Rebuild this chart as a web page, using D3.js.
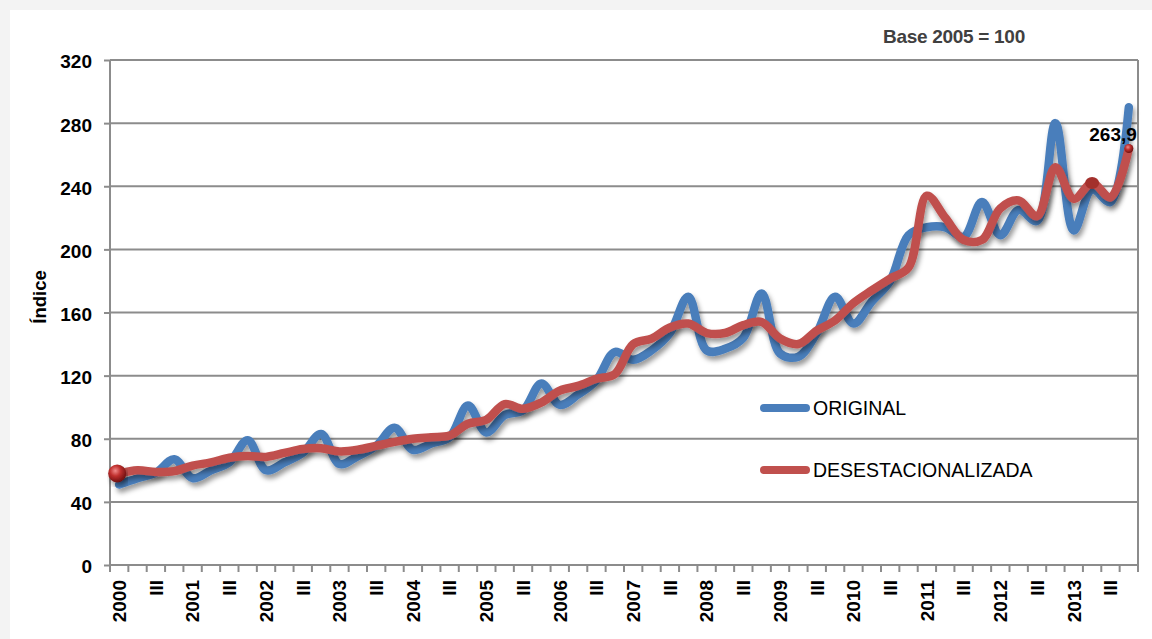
<!DOCTYPE html>
<html>
<head>
<meta charset="utf-8">
<script src="https://cdn.jsdelivr.net/npm/d3@7"></script>
<style>
  body { margin: 0; background: #f3f3f3; }
  text { font-family: "Liberation Sans", Arial, sans-serif; }
</style>
</head>
<body>
<script>
// quarters 2000-I .. 2013-IV
var years = [2000, 2001, 2002, 2003, 2004, 2005, 2006, 2007, 2008, 2009, 2010, 2011, 2012, 2013];
var quarterNames = ['I', 'II', 'III', 'IV'];

var original = [
    51, 55, 58.5, 67,
    55, 60, 65, 79,
    60, 65, 71, 83,
    64, 69, 75.5, 87,
    73, 77, 81, 101,
    84, 95, 98, 115,
    101.5, 108, 117, 135,
    130, 136, 147, 170,
    136, 137, 144, 172,
    134, 132, 147, 170,
    153, 167, 180, 209,
    214, 214, 208, 230,
    209, 225, 218, 280,
    212, 238, 230, 290
];

var desestacionalizada = [
    58, 60, 59, 59.5,
    63, 65, 68, 69,
    68.5, 71, 73.5, 74,
    72, 73, 75.5, 78,
    80, 81, 82, 89.5,
    92, 102, 99, 103,
    110.5, 113.5, 118, 121,
    140, 143.5, 150.5, 153,
    147, 147, 152, 154,
    143.5, 140, 148.5, 155,
    166, 174, 181.5, 188.5,
    234, 220, 206, 206,
    226, 231, 221, 252,
    232, 242, 233, 263.9
];

var yTicks = [0, 40, 80, 120, 160, 200, 240, 280, 320];
var lastLabel = '263,9';
var seriesNames = ['ORIGINAL', 'DESESTACIONALIZADA'];
var colors = { original: '#4a7ebb', desest: '#c0504d', grid: '#8c8c8c' };

var quarters = [];
years.forEach(function(y) {
    quarterNames.forEach(function(q) { quarters.push(y + '-' + q); });
});

var margin = { top: 60, left: 110, right: 14, bottom: 74 },
    width = 1152 - margin.left - margin.right,
    height = 639 - margin.top - margin.bottom;

var svg = d3.select('body')
    .append('svg')
    .attr('width', 1152)
    .attr('height', 639);

var defs = svg.append('defs');
var f = defs.append('filter').attr('id', 'shadow')
    .attr('x', '-5%').attr('y', '-20%').attr('width', '110%').attr('height', '140%');
f.append('feDropShadow')
    .attr('dx', 2).attr('dy', 4).attr('stdDeviation', 2.4)
    .attr('flood-color', '#000').attr('flood-opacity', 0.4);

var grad = defs.append('radialGradient').attr('id', 'ball')
    .attr('cx', '40%').attr('cy', '35%').attr('r', '65%');
grad.append('stop').attr('offset', '0%').attr('stop-color', '#f08a8a');
grad.append('stop').attr('offset', '45%').attr('stop-color', '#c0302e');
grad.append('stop').attr('offset', '100%').attr('stop-color', '#6e1010');

// chart area
svg.append('rect')
    .attr('x', 10).attr('y', 10)
    .attr('width', 1152).attr('height', 639)
    .attr('fill', '#fff');

var g = svg.append('g')
    .attr('transform', 'translate(' + margin.left + ',' + margin.top + ')');

var x = d3.scaleBand()
    .domain(quarters)
    .range([0, width])
    .padding(0);

var y = d3.scaleLinear()
    .domain([0, 320])
    .range([height, 0]);

// gridlines
g.append('g')
    .selectAll('line')
    .data(yTicks)
    .enter()
    .append('line')
    .attr('x1', 0).attr('x2', width)
    .attr('y1', function(d) { return y(d); })
    .attr('y2', function(d) { return y(d); })
    .attr('stroke', colors.grid)
    .attr('stroke-width', 2);

// y axis
var yAxis = g.append('g')
    .call(d3.axisLeft(y).tickValues(yTicks).tickSize(6).tickPadding(12));
yAxis.select('.domain').remove();
yAxis.selectAll('.tick line').attr('stroke', colors.grid).attr('stroke-width', 2);
yAxis.selectAll('.tick text')
    .attr('fill', '#000')
    .attr('dy', '0.42em')
    .style('font-size', '19px')
    .style('font-weight', 'bold');

g.append('line')
    .attr('x1', 0).attr('x2', 0).attr('y1', 0).attr('y2', height)
    .attr('stroke', colors.grid).attr('stroke-width', 2);
g.append('line')
    .attr('x1', width).attr('x2', width).attr('y1', 0).attr('y2', height)
    .attr('stroke', colors.grid).attr('stroke-width', 2);

// x tick marks between categories
g.append('g')
    .selectAll('line')
    .data(quarters.concat(['end']))
    .enter()
    .append('line')
    .attr('x1', function(d) { return d === 'end' ? width : x(d); })
    .attr('x2', function(d) { return d === 'end' ? width : x(d); })
    .attr('y1', height).attr('y2', height + 7)
    .attr('stroke', colors.grid).attr('stroke-width', 2);

// x labels
var xAxis = g.append('g')
    .attr('transform', 'translate(0,' + height + ')')
    .call(d3.axisBottom(x).tickSize(0).tickFormat(function(d) {
        var p = d.split('-');
        if (p[1] === 'I') return p[0];
        if (p[1] === 'III') return 'III';
        return '';
    }));
xAxis.select('.domain').remove();
xAxis.selectAll('.tick text')
    .attr('transform', 'rotate(-90)')
    .attr('x', -15)
    .attr('y', 0)
    .attr('dy', '0.36em')
    .attr('text-anchor', 'end')
    .attr('fill', '#000')
    .style('font-size', '19px')
    .style('font-weight', 'bold');

// lines
var line = d3.line()
    .x(function(d, i) { return x(quarters[i]) + x.bandwidth() / 2; })
    .y(function(d) { return y(d); })
    .curve(d3.curveCatmullRom.alpha(0.5));

g.append('path')
    .datum(original)
    .attr('d', line)
    .attr('filter', 'url(#shadow)')
    .style('fill', 'none')
    .style('stroke', colors.original)
    .style('stroke-width', 8.5)
    .style('stroke-linejoin', 'round')
    .style('stroke-linecap', 'round');

g.append('path')
    .datum(desestacionalizada)
    .attr('d', line)
    .attr('filter', 'url(#shadow)')
    .style('fill', 'none')
    .style('stroke', colors.desest)
    .style('stroke-width', 8.5)
    .style('stroke-linejoin', 'round')
    .style('stroke-linecap', 'round');

// markers on the red series
var cx = function(i) { return x(quarters[i]) + x.bandwidth() / 2; };
var n = desestacionalizada.length;

g.append('circle')
    .attr('cx', cx(0) - 2).attr('cy', y(desestacionalizada[0]))
    .attr('r', 9)
    .attr('filter', 'url(#shadow)')
    .attr('fill', 'url(#ball)');

g.append('ellipse')
    .attr('cx', cx(n - 3)).attr('cy', y(desestacionalizada[n - 3]))
    .attr('rx', 7).attr('ry', 6)
    .attr('fill', '#a3302c');

g.append('circle')
    .attr('cx', cx(n - 1)).attr('cy', y(desestacionalizada[n - 1]))
    .attr('r', 4.5)
    .attr('fill', 'url(#ball)');

g.append('text')
    .attr('x', cx(n - 1) + 8)
    .attr('y', y(desestacionalizada[n - 1]) - 8)
    .attr('text-anchor', 'end')
    .style('font-size', '19px')
    .style('font-weight', 'bold')
    .text(lastLabel);

// legend
var legend = g.append('g')
    .attr('transform', 'translate(' + (760 - margin.left) + ',' + (408 - margin.top) + ')');
var legendRows = legend.selectAll('g')
    .data(seriesNames)
    .enter()
    .append('g')
    .attr('transform', function(d, i) { return 'translate(0,' + (i * 62) + ')'; });
legendRows.append('line')
    .attr('x1', 4).attr('x2', 46)
    .attr('y1', 0).attr('y2', 0)
    .attr('stroke', function(d, i) { return i === 0 ? colors.original : colors.desest; })
    .attr('stroke-width', 8)
    .attr('stroke-linecap', 'round');
legendRows.append('text')
    .attr('x', 53)
    .attr('y', 0)
    .attr('dy', '0.36em')
    .style('font-size', '19.5px')
    .text(function(d) { return d; });

// titles
svg.append('text')
    .attr('transform', 'translate(46,297) rotate(-90)')
    .attr('text-anchor', 'middle')
    .style('font-size', '18.5px')
    .style('font-weight', 'bold')
    .text('Índice');

svg.append('text')
    .attr('x', 954)
    .attr('y', 43)
    .attr('text-anchor', 'middle')
    .attr('fill', '#404040')
    .style('font-size', '19px')
    .style('font-weight', 'bold')
    .style('letter-spacing', '-0.3px')
    .text('Base 2005 = 100');
</script>
</body>
</html>
